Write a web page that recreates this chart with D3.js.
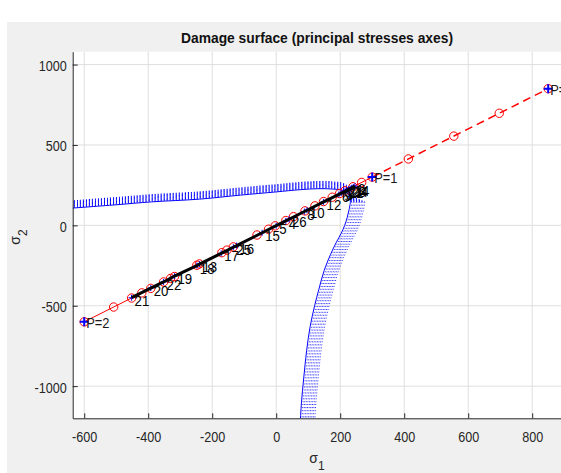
<!DOCTYPE html>
<html lang="en">
<head>
<meta charset="utf-8">
<title>Damage surface</title>
<script src="https://d3js.org/d3.v7.min.js"></script>
<style>
  body { margin: 0; background: #fff; }
  svg { display: block; }
  text { font-family: "Liberation Sans", Arial, sans-serif; }
</style>
</head>
<body>
<div id="chart"></div>
<script>
var w = 561, h = 473;

// loading path points
var pathNames = ["P=2", "P=1", "P=3"];
var pathX = [-600, 300, 850];
var pathY = [-600, 300, 850];

// circle markers along the red path
var solidCircleX = [-600, -508, -452, -420, -392, -352, -330, -318, -248, -240, -170, -154, -134, -60, -24, -3, 30, 54, 90, 121, 148, 175, 198, 215, 240, 267, 300];
var solidCircleY = [-600, -508, -452, -420, -392, -352, -330, -318, -248, -240, -170, -154, -134, -60, -24, -3, 30, 54, 90, 121, 148, 175, 198, 215, 240, 267, 300];
var dashedCircleX = [413, 555, 697, 850];
var dashedCircleY = [413, 555, 697, 850];

// numbered steps (black path)
var stepLabels = ["21", "20", "22", "19", "18", "13", "17", "25", "16", "15", "5", "4", "26", "8", "10", "12", "6", "9", "3", "7", "11", "23", "24", "14", "1", "2"];
var stepX = [-452, -392, -352, -318, -248, -240, -172, -134, -124, -44, 0, 30, 40, 88, 96, 148, 196, 203, 209, 215, 220, 226, 231, 236, 241, 246];
var stepY = [-450, -390, -352, -316, -250, -241, -174, -136, -126, -46, -2, 28, 38, 86, 94, 146, 193, 200, 206, 212, 218, 224, 229, 234, 239, 244];

// damage surface: base curve, upper branch then lower branch
var upperX = [-660, -500, -390, -240, -112, 0, 75, 130, 175, 205, 222, 230, 232];
var upperY = [104, 128, 146, 163, 188, 208, 222, 228, 226, 218, 200, 175, 145];
var lowerX = [232, 228, 222, 214, 203, 188, 170, 150, 133, 120, 106, 95, 86, 79, 75];
var lowerY = [145, 100, 50, 0, -50, -105, -180, -280, -400, -500, -630, -780, -950, -1100, -1230];
var surfaceShift = [0, 5, 10, 15, 20, 25, 30, 35, 40, 45];

var xTicks = [-600, -400, -200, 0, 200, 400, 600, 800];
var yTicks = [-1000, -500, 0, 500, 1000];

var plotL = 72.7, plotT = 51.7, plotB = 418.3, plotR = 596.2;

var x = d3.scaleLinear().domain([-636, 1000]).range([plotL, plotR]);
var y = d3.scaleLinear().domain([-1200, 1080]).range([plotB, plotT]);

var svg = d3.select("#chart").append("svg")
            .attr("width", w).attr("height", h);

// figure background
svg.append("rect").attr("x", 7).attr("y", 22)
   .attr("width", w - 7).attr("height", h - 22).attr("fill", "#f0f0f0");
svg.append("rect").attr("x", plotL).attr("y", plotT)
   .attr("width", plotR - plotL).attr("height", plotB - plotT).attr("fill", "#fff");

svg.append("clipPath").attr("id", "clip").append("rect")
   .attr("x", plotL).attr("y", plotT)
   .attr("width", plotR - plotL).attr("height", plotB - plotT);

// grid
var grid = svg.append("g").attr("stroke", "#dfdfdf").attr("stroke-width", 1);
grid.selectAll(".gx").data(xTicks).enter().append("line")
    .attr("x1", d => x(d)).attr("x2", d => x(d))
    .attr("y1", plotT).attr("y2", plotB);
grid.selectAll(".gy").data(yTicks).enter().append("line")
    .attr("x1", plotL).attr("x2", plotR)
    .attr("y1", d => y(d)).attr("y2", d => y(d));

var plot = svg.append("g").attr("clip-path", "url(#clip)");

// damage surfaces
var curve = d3.line().x(d => x(d[0])).y(d => y(d[1])).curve(d3.curveCatmullRom);
var upperPts = d3.zip(upperX, upperY);
var lowerPts = d3.zip(lowerX, lowerY).reverse();

surfaceShift.forEach(function(s, i){
  var up = upperPts.map(p => [p[0], p[1] + s]);
  if (s > 0) up.push([lowerX[0] + s, lowerY[0]]);
  var lo = lowerPts.map(p => [p[0] + s, p[1]]);
  plot.append("path").attr("d", curve(up))
      .attr("fill", "none")
      .attr("stroke", "#0000ff")
      .attr("stroke-width", i == 0 ? 1 : 1.1)
      .attr("stroke-dasharray", i == 0 ? null : "1 2");
  plot.append("path").attr("d", curve(lo))
      .attr("fill", "none")
      .attr("stroke", "#0000ff")
      .attr("stroke-width", i == 0 ? 1 : 0.9)
      .attr("stroke-dasharray", i == 0 ? null : "0.9 2.1");
});

// red loading path
var seg = d3.line().x(d => x(d[0])).y(d => y(d[1]));
plot.append("path").attr("d", seg([[pathX[0], pathY[0]], [pathX[1], pathY[1]]]))
    .attr("fill", "none").attr("stroke", "#ff0000").attr("stroke-width", 1);
plot.append("path").attr("d", seg([[pathX[1], pathY[1]], [pathX[2], pathY[2]]]))
    .attr("fill", "none").attr("stroke", "#ff0000").attr("stroke-width", 1.5)
    .attr("stroke-dasharray", "8 5");

var circ = d3.zip(solidCircleX, solidCircleY).concat(d3.zip(dashedCircleX, dashedCircleY));
plot.selectAll(".rc").data(circ).enter().append("circle")
    .attr("cx", d => x(d[0])).attr("cy", d => y(d[1])).attr("r", 4.2)
    .attr("fill", "none").attr("stroke", "#ff0000").attr("stroke-width", 1);

// small blue markers on steps
var steps = d3.zip(stepX, stepY);
var plus = function(g, pts, size, sw){
  pts.forEach(function(p){
    var cx = x(p[0]), cy = y(p[1]);
    g.append("path")
     .attr("d", `M${cx - size},${cy}H${cx + size}M${cx},${cy - size}V${cy + size}`)
     .attr("stroke", "#0000ff").attr("stroke-width", sw);
  });
};
plus(plot, steps, 3, 1);

// black step path
plot.append("path").attr("d", seg(steps))
    .attr("fill", "none").attr("stroke", "#000").attr("stroke-width", 3);

// P markers
plus(plot, d3.zip(pathX, pathY), 4.5, 2);

// axes
var xAxis = d3.axisBottom(x).tickValues(xTicks).tickFormat(d => String(d))
              .tickSizeInner(-5).tickSizeOuter(0).tickPadding(14);
var yAxis = d3.axisLeft(y).tickValues(yTicks).tickFormat(d => String(d))
              .tickSizeInner(-5).tickSizeOuter(0).tickPadding(6);

var squeeze = function(sel, f){
  sel.each(function(){
    var L = this.getComputedTextLength();
    d3.select(this).attr("textLength", L * f).attr("lengthAdjust", "spacingAndGlyphs");
  });
};

var gx = svg.append("g").attr("transform", `translate(0,${plotB})`).call(xAxis);
var gy = svg.append("g").attr("transform", `translate(${plotL},0)`).call(yAxis);
[gx, gy].forEach(function(g){
  g.select(".domain").attr("stroke", "#262626");
  g.selectAll(".tick line").attr("stroke", "#262626");
  g.selectAll(".tick text").attr("fill", "#262626")
   .style("font-size", "14px").style("font-family", "'Liberation Sans', Arial, sans-serif");
  squeeze(g.selectAll(".tick text"), 0.9);
});
gy.selectAll(".tick text").attr("dy", "0.43em");

// step labels
svg.selectAll(".sl").data(stepLabels).enter().append("text")
   .attr("x", (d, i) => x(stepX[i]) + 3)
   .attr("y", (d, i) => y(stepY[i]) + 8)
   .attr("font-size", 15).attr("fill", "#000")
   .text(d => d)
   .call(squeeze, 0.88);

svg.selectAll(".pl").data(pathNames).enter().append("text")
   .attr("x", (d, i) => x(pathX[i]) + 2)
   .attr("y", (d, i) => y(pathY[i]) + 6)
   .attr("font-size", 15).attr("fill", "#1a1a1a")
   .text(d => d)
   .call(squeeze, 0.86);

// title
svg.append("text").attr("x", 317).attr("y", 43)
   .attr("text-anchor", "middle").attr("font-size", 15).attr("font-weight", "bold")
   .attr("fill", "#111")
   .attr("textLength", 272).attr("lengthAdjust", "spacingAndGlyphs")
   .text("Damage surface (principal stresses axes)");

// axis labels
var xl = svg.append("text").attr("x", 317).attr("y", 463)
   .attr("text-anchor", "middle").attr("fill", "#262626").attr("font-size", 14);
xl.append("tspan").text("σ");
xl.append("tspan").attr("dy", 7).attr("font-size", 12).text("1");

var yl = svg.append("text").attr("transform", "translate(20,237) rotate(-90)")
   .attr("text-anchor", "middle").attr("fill", "#262626").attr("font-size", 14);
yl.append("tspan").text("σ");
yl.append("tspan").attr("dy", 7).attr("font-size", 12).text("2");
</script>
</body>
</html>
